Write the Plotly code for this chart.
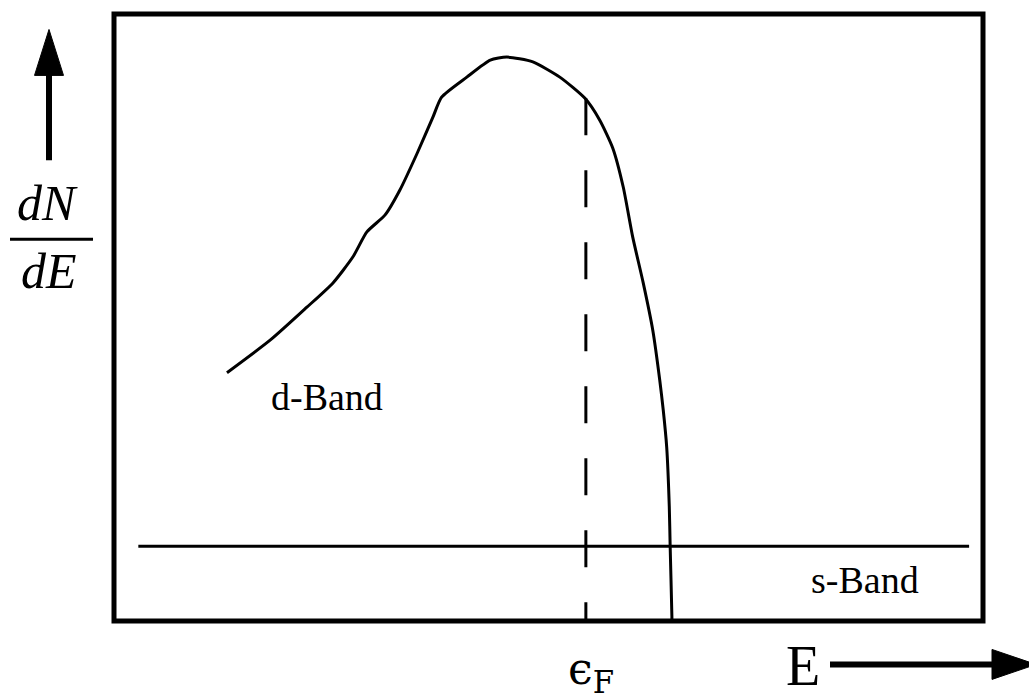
import plotly.graph_objects as go

# d-band density of states (arbitrary units)
energy = [1.30, 1.80, 2.22, 2.52, 2.75, 2.91, 3.12, 3.29, 3.49, 3.67, 3.77, 4.06,
          4.33, 4.52, 4.82, 5.13, 5.42, 5.59, 5.74, 5.86, 5.97, 6.09, 6.20, 6.28,
          6.32, 6.36, 6.39, 6.40, 6.42, 6.42]
dos_d = [4.09, 4.63, 5.17, 5.57, 6.00, 6.41, 6.69, 7.10, 7.71, 8.30, 8.63, 8.96,
         9.24, 9.29, 9.21, 8.96, 8.61, 8.25, 7.79, 7.15, 6.32, 5.57, 4.79, 3.97,
         3.48, 2.87, 1.88, 1.23, 0.07, 0.0]

# s-band: flat level
s_energy = [0.28, 9.84]
dos_s = [1.23, 1.23]

# Fermi level
e_fermi = 5.43
dos_at_fermi = 8.61

W, H = 1029, 697
L, R, T, B = 114, 983, 13.5, 621.5


def px(x):
    return (x - L) / (R - L)


def py(y):
    return (B - y) / (B - T)


fig = go.Figure()

fig.add_trace(go.Scatter(x=energy, y=dos_d, mode="lines",
                         line=dict(color="black", width=3, shape="spline", smoothing=0.6),
                         hoverinfo="skip"))
fig.add_trace(go.Scatter(x=s_energy, y=dos_s, mode="lines",
                         line=dict(color="black", width=3), hoverinfo="skip"))
fig.add_trace(go.Scatter(x=[e_fermi, e_fermi], y=[dos_at_fermi, 0], mode="lines",
                         line=dict(color="black", width=3, dash="37px,35px"),
                         hoverinfo="skip"))

serif = "Liberation Serif, Times New Roman, serif"
mid = dict(xanchor="center", yanchor="middle", showarrow=False)

fig.add_annotation(x=2.45, y=3.69, text="d-Band", **mid,
                   font=dict(family=serif, size=38, color="black"))
fig.add_annotation(x=8.64, y=0.67, text="s-Band", **mid,
                   font=dict(family=serif, size=38, color="black"))

# labels outside the box
fig.add_annotation(xref="paper", yref="paper", x=px(591), y=py(672), text="ϵ<sub>F</sub>", **mid,
                   font=dict(family="DejaVu Serif, serif", size=44, color="black"))
fig.add_annotation(xref="paper", yref="paper", x=px(803), y=py(667), text="E", **mid,
                   font=dict(family=serif, size=56, color="black"))
fig.add_annotation(xref="paper", yref="paper", x=px(47), y=py(203), text="<i>dN</i>", **mid,
                   font=dict(family=serif, size=50, color="black"))
fig.add_annotation(xref="paper", yref="paper", x=px(49), y=py(271), text="<i>dE</i>", **mid,
                   font=dict(family=serif, size=50, color="black"))

shapes = [
    # frame
    dict(type="rect", xref="paper", yref="paper", x0=0, x1=1, y0=0, y1=1,
         line=dict(color="black", width=5)),
    # fraction bar
    dict(type="line", xref="paper", yref="paper", x0=px(10), x1=px(93), y0=py(239), y1=py(239),
         line=dict(color="black", width=3)),
    # up arrow
    dict(type="line", xref="paper", yref="paper", x0=px(49), x1=px(49), y0=py(160), y1=py(72),
         line=dict(color="black", width=6)),
    dict(type="path", xref="paper", yref="paper",
         path="M {} {} L {} {} L {} {} Z".format(px(34.5), py(75), px(63.5), py(75), px(49), py(29)),
         fillcolor="black", line=dict(color="black", width=1)),
    # right arrow
    dict(type="line", xref="paper", yref="paper", x0=px(830), x1=px(995), y0=py(665), y1=py(665),
         line=dict(color="black", width=6)),
    dict(type="path", xref="paper", yref="paper",
         path="M {} {} L {} {} L {} {} Z".format(px(992), py(650), px(992), py(680), px(1036), py(665)),
         fillcolor="black", line=dict(color="black", width=1)),
]

fig.update_layout(
    width=W, height=H,
    margin=dict(l=L, r=W - R, t=T, b=H - B),
    paper_bgcolor="white", plot_bgcolor="white",
    showlegend=False,
    shapes=shapes,
    xaxis=dict(range=[0, 10], visible=False, fixedrange=True),
    yaxis=dict(range=[0, 10], visible=False, fixedrange=True),
)

# drop the page's default body margin so the figure sits at the top-left corner
fig.write_html("out.html", config={"displayModeBar": False},
               post_script="document.body.style.margin='0';document.body.style.overflow='hidden';")
